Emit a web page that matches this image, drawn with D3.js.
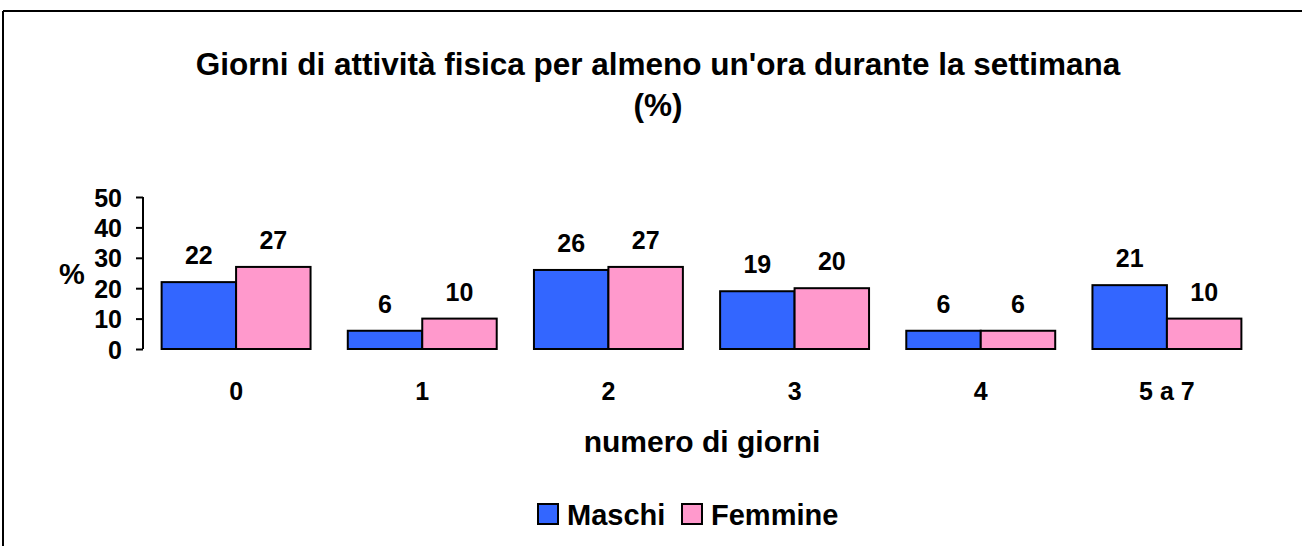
<!DOCTYPE html>
<html>
<head>
<meta charset="utf-8">
<script src="https://cdn.jsdelivr.net/npm/d3@7"></script>
<style>
  body { margin: 0; background: #fff; }
  text { font-family: Arial, "Liberation Sans", sans-serif; font-weight: bold; fill: #000; }
</style>
</head>
<body>
<script>
var categories = ["0", "1", "2", "3", "4", "5 a 7"];
var seriesNames = ["Maschi", "Femmine"];
var maschi = [22, 6, 26, 19, 6, 21];
var femmine = [27, 10, 27, 20, 6, 10];
var yTicks = [0, 10, 20, 30, 40, 50];
var colors = ["#3366FF", "#FF99CC"];

var width = 1302, height = 546;

var svg = d3.select("body")
            .append("svg")
            .attr("width", width)
            .attr("height", height);

// chart frame (only top and left edges are in view)
svg.append("line").attr("x1", 3).attr("x2", width).attr("y1", 11).attr("y2", 11)
   .attr("stroke", "#000").attr("stroke-width", 2);
svg.append("line").attr("x1", 3).attr("x2", 3).attr("y1", 11).attr("y2", height)
   .attr("stroke", "#000").attr("stroke-width", 2);

// title
svg.append("text").attr("x", 658).attr("y", 75).attr("text-anchor", "middle")
   .attr("font-size", "31.5px").text("Giorni di attività fisica per almeno un'ora durante la settimana");
svg.append("text").attr("x", 658).attr("y", 116).attr("text-anchor", "middle")
   .attr("font-size", "31.5px").text("(%)");

var x = d3.scaleBand().domain(categories).range([143, 1260])
          .paddingInner(0.2).paddingOuter(0.1);
var xs = d3.scaleBand().domain(seriesNames).range([0, x.bandwidth()]);
var y = d3.scaleLinear().domain([0, 50]).range([349, 197]);

// y axis
var yAxis = svg.append("g").attr("transform", "translate(143,0)")
   .call(d3.axisLeft(y).tickValues(yTicks).tickSize(7).tickPadding(14));
yAxis.selectAll("path, line").attr("stroke", "#000").attr("stroke-width", 2);
yAxis.select("path").attr("d", "M0," + y(50) + "V" + y(0));
yAxis.selectAll("text").attr("font-size", "25px").attr("dy", "0.36em")
     .attr("font-family", "Arial, 'Liberation Sans', sans-serif").attr("font-weight", "bold");

svg.append("text").attr("x", 72).attr("y", 284).attr("text-anchor", "middle")
   .attr("font-size", "29px").text("%");

// bars
var rows = categories.map(function(c, i) {
  return { cat: c, vals: [maschi[i], femmine[i]] };
});

var g = svg.selectAll("g.cat")
           .data(rows)
           .enter()
           .append("g")
           .attr("class", "cat")
           .attr("transform", function(d) { return "translate(" + x(d.cat) + ",0)"; });

g.selectAll("rect")
 .data(function(d) { return d.vals; })
 .enter()
 .append("rect")
 .attr("x", function(d, i) { return xs(seriesNames[i]); })
 .attr("y", function(d) { return y(d); })
 .attr("width", xs.bandwidth())
 .attr("height", function(d) { return y(0) - y(d); })
 .attr("fill", function(d, i) { return colors[i]; })
 .attr("stroke", "#000")
 .attr("stroke-width", 2);

g.selectAll("text.val")
 .data(function(d) { return d.vals; })
 .enter()
 .append("text")
 .attr("class", "val")
 .attr("x", function(d, i) { return xs(seriesNames[i]) + xs.bandwidth() / 2; })
 .attr("y", function(d) { return y(d) - 18; })
 .attr("text-anchor", "middle")
 .attr("font-size", "25px")
 .text(function(d) { return d; });

// category labels
svg.selectAll("text.cat")
   .data(categories)
   .enter()
   .append("text")
   .attr("class", "cat")
   .attr("x", function(d) { return x(d) + x.bandwidth() / 2; })
   .attr("y", 400)
   .attr("text-anchor", "middle")
   .attr("font-size", "25px")
   .text(function(d) { return d; });

svg.append("text").attr("x", 702).attr("y", 452).attr("text-anchor", "middle")
   .attr("font-size", "30px").text("numero di giorni");

// legend
var legendX = [538, 682];
var leg = svg.selectAll("g.leg")
   .data(seriesNames)
   .enter()
   .append("g")
   .attr("class", "leg")
   .attr("transform", function(d, i) { return "translate(" + legendX[i] + ",504)"; });
leg.append("rect").attr("width", 20).attr("height", 20)
   .attr("fill", function(d, i) { return colors[i]; })
   .attr("stroke", "#000").attr("stroke-width", 2);
leg.append("text").attr("x", 29).attr("y", 21).attr("font-size", "29px")
   .text(function(d) { return d; });
</script>
</body>
</html>
